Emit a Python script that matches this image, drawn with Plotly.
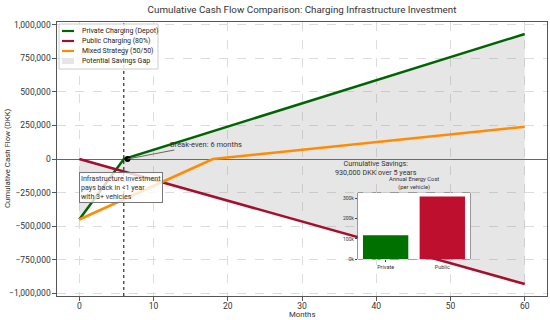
import plotly.graph_objects as go

# ---- data ----
months_private = [0, 6, 60]
cash_private = [-450000, 0, 930000]
months_public = [0, 60]
cash_public = [0, -930000]
months_mixed = [0, 18, 60]
cash_mixed = [-450000, 0, 240000]
breakeven_month = 6
breakeven_point_x = [6.5]
breakeven_point_y = [0]
savings_label_month = 40
inset_categories = ["Private", "Public"]
inset_costs = [118000, 310000]
y_ticks = [-1000000, -750000, -500000, -250000, 0, 250000, 500000, 750000, 1000000]
x_ticks = [0, 10, 20, 30, 40, 50, 60]
inset_ticks = [0, 100000, 200000, 300000]
inset_ticklabels = ["0k", "100k", "200k", "300k"]

GREEN = "#006400"
RED = "#a50f2d"
ORANGE = "#ff8c00"
GAP_FILL = "rgba(128,128,128,0.2)"
FONT = "Roboto"

legend_entries = [
    ("Private Charging (Depot)", "line", GREEN),
    ("Public Charging (80%)", "line", RED),
    ("Mixed Strategy (50/50)", "line", ORANGE),
    ("Potential Savings Gap", "patch", GAP_FILL),
]

fig = go.Figure()

# fill between private & public
fig.add_trace(go.Scatter(x=months_public, y=cash_public, mode="lines",
                         line=dict(width=0), showlegend=False, hoverinfo="skip"))
fig.add_trace(go.Scatter(x=months_private, y=cash_private, mode="lines",
                         line=dict(width=0), fill="tonexty", fillcolor=GAP_FILL,
                         name="Potential Savings Gap", showlegend=False))

fig.add_trace(go.Scatter(x=months_private, y=cash_private, mode="lines",
                         line=dict(color=GREEN, width=2.5),
                         name="Private Charging (Depot)", showlegend=False))
fig.add_trace(go.Scatter(x=months_public, y=cash_public, mode="lines",
                         line=dict(color=RED, width=2.5),
                         name="Public Charging (80%)", showlegend=False))
fig.add_trace(go.Scatter(x=months_mixed, y=cash_mixed, mode="lines",
                         line=dict(color=ORANGE, width=2.5),
                         name="Mixed Strategy (50/50)", showlegend=False))
fig.add_trace(go.Scatter(x=breakeven_point_x, y=breakeven_point_y, mode="markers",
                         marker=dict(color="black", size=6), showlegend=False))

# inset bars
fig.add_trace(go.Bar(x=inset_categories, y=inset_costs, xaxis="x2", yaxis="y2",
                     marker=dict(color=["#007000", "#be0f2e"], line=dict(width=0)),
                     width=0.8, showlegend=False))

# break-even vertical line
fig.add_shape(type="line", xref="x", yref="paper", x0=breakeven_month, x1=breakeven_month,
              y0=0, y1=1, line=dict(color="black", width=1, dash="dot"), layer="above")

# inset background
fig.add_shape(type="rect", xref="x2 domain", yref="y2 domain", x0=0, x1=1, y0=0, y1=1,
              fillcolor="white", line=dict(color="#444", width=1), layer="below")

# ---- legend (drawn to match the compact matplotlib legend) ----
PW, PH = 490.0, 274.0  # plot area size in px
def px_x(d):
    return d / PW
def px_y(d):
    return 1 - d / PH

lg_left, lg_top, lg_w, lg_h, lg_row = 2, 2, 99, 45, 10
fig.add_shape(type="rect", xref="paper", yref="paper",
              x0=px_x(lg_left), x1=px_x(lg_left + lg_w),
              y0=px_y(lg_top + lg_h), y1=px_y(lg_top),
              fillcolor="rgba(255,255,255,0.85)", line=dict(color="#cccccc", width=1),
              layer="above")
for i, (label, kind, color) in enumerate(legend_entries):
    cy = lg_top + 7 + i * lg_row
    if kind == "line":
        fig.add_shape(type="line", xref="paper", yref="paper",
                      x0=px_x(lg_left + 3), x1=px_x(lg_left + 15),
                      y0=px_y(cy), y1=px_y(cy),
                      line=dict(color=color, width=2.2), layer="above")
    else:
        fig.add_shape(type="rect", xref="paper", yref="paper",
                      x0=px_x(lg_left + 3), x1=px_x(lg_left + 15),
                      y0=px_y(cy + 3), y1=px_y(cy - 3),
                      fillcolor=color, line=dict(width=0), layer="above")
    fig.add_annotation(text=label, xref="paper", yref="paper",
                       x=px_x(lg_left + 21), y=px_y(cy), xanchor="left", yanchor="middle",
                       showarrow=False, font=dict(size=7, color="#222", family=FONT))

axis_common = dict(showline=True, linecolor="#555", linewidth=1.2, mirror=True,
                   ticks="outside", ticklen=3.5, tickcolor="#555",
                   tickfont=dict(size=8.5, color="#333", family=FONT),
                   showgrid=True, gridcolor="#dcdcdc", griddash="dash", gridwidth=1,
                   automargin=False)

fig.update_layout(
    width=550, height=320,
    margin=dict(l=57, r=3, t=22, b=24),
    paper_bgcolor="white", plot_bgcolor="white",
    font=dict(family=FONT, color="#333"),
    title=dict(text="Cumulative Cash Flow Comparison: Charging Infrastructure Investment",
               x=0.5, xref="paper", xanchor="center", y=0.97, yanchor="middle",
               font=dict(size=9.8, color="#333", family=FONT)),
    xaxis=dict(range=[-3, 63], tickvals=x_ticks, zeroline=False, ticklabelstandoff=-2,
               **axis_common),
    yaxis=dict(range=[-1019000, 1019000], tickvals=y_ticks, tickformat=",d",
               zeroline=True, zerolinecolor="#666", zerolinewidth=1, **axis_common),
    xaxis2=dict(domain=[0.614, 0.843], anchor="y2", range=[-0.49, 1.49],
                showline=False, ticks="outside", ticklen=2, tickcolor="#444",
                tickfont=dict(size=5.5, color="#333", family=FONT), showgrid=False,
                automargin=False),
    yaxis2=dict(domain=[0.135, 0.376], anchor="x2", range=[0, 328000],
                tickvals=inset_ticks, ticktext=inset_ticklabels,
                showline=False, ticks="outside", ticklen=2, tickcolor="#444",
                tickfont=dict(size=5, color="#333", family=FONT), showgrid=False,
                zeroline=False, automargin=False),
    bargap=0.2,
    showlegend=False,
)

fig.add_annotation(text="Cumulative Cash Flow (DKK)", xref="paper", yref="paper",
                   x=-0.102, y=0.5, xanchor="center", yanchor="middle", textangle=-90,
                   showarrow=False, font=dict(size=7.8, color="#333", family=FONT))
fig.add_annotation(text="Months", xref="paper", yref="paper", x=0.5, y=-0.0693,
                   xanchor="center", yanchor="middle", showarrow=False,
                   font=dict(size=7.8, color="#333", family=FONT))
fig.add_annotation(text="Break-even: 6 months", x=breakeven_point_x[0], y=breakeven_point_y[0],
                   xref="x", yref="y", ax=78, ay=-15, showarrow=True, arrowhead=0,
                   arrowcolor="#666", arrowwidth=1,
                   font=dict(size=7.5, color="#333", family=FONT))
fig.add_annotation(text="Infrastructure investment<br>pays back in &lt;1 year<br>with 3+ vehicles",
                   x=0, y=-100000, xref="x", yref="y", xanchor="left", yanchor="top",
                   align="left", showarrow=False, bgcolor="rgba(255,255,255,0.8)",
                   bordercolor="#777", borderwidth=1, borderpad=1,
                   font=dict(size=7.1, color="#333", family=FONT))
fig.add_annotation(text="Cumulative Savings:<br>930,000 DKK over 5 years",
                   x=savings_label_month, y=-65000, xref="x", yref="y",
                   xanchor="center", yanchor="middle", showarrow=False, align="center",
                   font=dict(size=7.2, color="#333", family=FONT))
fig.add_annotation(text="Annual Energy Cost<br>(per vehicle)", xref="x2 domain", yref="y2 domain",
                   x=0.5, y=1.14, xanchor="center", yanchor="middle", showarrow=False,
                   align="center", font=dict(size=5.8, color="#333", family=FONT))

fig.write_html("out.html", config={"displayModeBar": False},
               post_script="document.body.style.margin='0px';")
